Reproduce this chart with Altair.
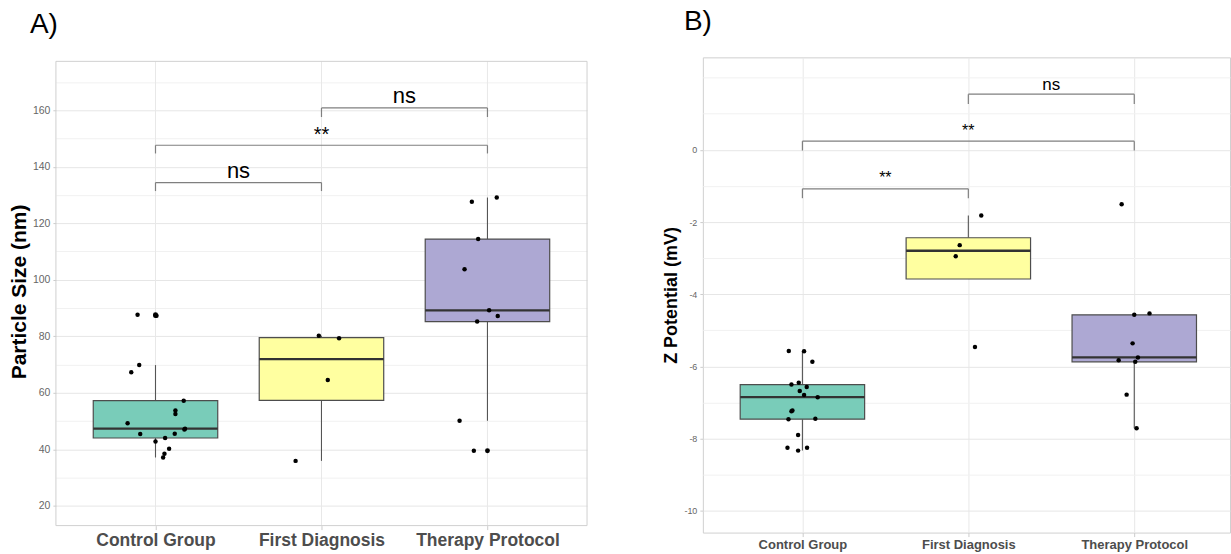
import altair as alt
import pandas as pd

GROUPS = ["Control Group", "First Diagnosis", "Therapy Protocol"]
FILLS = ["#79CCB9", "#FFFFA0", "#ADA8D3"]
FONT = "Liberation Sans"
BORDER = "#D0D0D0"

# Particle size (nm), one list per group, with the horizontal jitter of each point
size_control = [87.6, 87.3, 69.8, 67.3, 57.2, 53.7, 52.5, 49.2, 47.3, 47.0,
                45.4, 45.5, 42.8, 44.0, 40.2, 38.4, 37.1]
size_control_jit = [-0.108, 0.006, -0.098, -0.146, 0.170, 0.120, 0.120, -0.168, 0.178, 0.174,
                    -0.092, 0.116, 0.0, 0.058, 0.082, 0.054, 0.046]
size_first = [80.2, 79.3, 64.5, 35.9]
size_first_jit = [-0.016, 0.106, 0.038, -0.156]
size_therapy = [127.6, 129.1, 114.4, 103.7, 89.2, 87.2, 85.2, 50.1, 39.5]
size_therapy_jit = [-0.094, 0.056, -0.056, -0.138, 0.010, 0.062, -0.062, -0.168, -0.082]

# Z potential (mV)
zeta_control = [-5.57, -5.58, -5.87, -6.50, -6.45, -6.57, -6.68, -6.79, -6.85,
                -7.24, -7.22, -7.46, -7.45, -7.90, -8.25, -8.33, -8.25]
zeta_control_jit = [-0.082, 0.010, 0.060, -0.066, -0.022, 0.026, -0.016, 0.010, 0.092,
                    -0.066, -0.060, -0.084, 0.078, -0.026, -0.090, -0.026, 0.028]
zeta_first = [-1.82, -2.64, -2.95, -5.46]
zeta_first_jit = [0.078, -0.052, -0.076, 0.040]
zeta_therapy = [-1.51, -4.57, -4.53, -5.36, -5.75, -5.83, -5.87, -6.78, -7.71]
zeta_therapy_jit = [-0.076, 0.0, 0.092, -0.010, 0.022, -0.094, 0.006, -0.046, 0.014]

# Significance brackets: group positions, bar level, tip end, label, label baseline, font size
size_brackets = {
    "x1": [1, 1, 2], "x2": [2, 3, 3],
    "y": [134.4, 147.6, 160.8], "tip": [131.4, 144.7, 157.6],
    "label": ["ns", "**", "ns"], "ly": [135.9, 149.2, 162.4], "fs": [22, 20, 22],
}
zeta_brackets = {
    "x1": [1, 1, 2], "x2": [2, 3, 3],
    "y": [-1.08, 0.24, 1.54], "tip": [-1.34, -0.02, 1.27],
    "label": ["**", "**", "ns"], "ly": [-0.92, 0.37, 1.66], "fs": [16, 16, 17],
}


def long_table(series, jitters):
    rows = []
    for i, (vals, jits) in enumerate(zip(series, jitters)):
        for v, j in zip(vals, jits):
            rows.append({"group": GROUPS[i], "pos": i + 1, "value": v, "xj": i + 1 + j})
    return pd.DataFrame(rows)


def panel(df, brackets, title, title_dx, title_offset, y_title, y_title_size, y_domain,
          y_grid, y_label_test, x_max, width, height, tick_size, cat_size, cat_pad,
          show_outliers, inset=0):
    """One boxplot panel; `inset` leaves an empty band of that many pixels above the frame."""
    label_expr = "['Control Group','First Diagnosis','Therapy Protocol'][datum.value - 1]"
    xs = alt.Scale(domain=[0.4, x_max], nice=False, zero=False)
    ys = alt.Scale(domain=y_domain, nice=False, zero=False)
    x_axis = alt.Axis(values=[1, 2, 3], labelExpr=label_expr, title=None, domain=False,
                      grid=(inset == 0), gridColor="#E8E8E8", tickColor="#CCCCCC", tickSize=4,
                      labelFont=FONT, labelFontSize=cat_size, labelFontWeight="bold",
                      labelColor="#4D4D4D", labelPadding=cat_pad)
    y_axis = alt.Axis(values=y_grid, title=y_title, domain=False,
                      labelExpr=f"({y_label_test}) ? ('' + datum.value) : ''",
                      grid=True,
                      gridColor={"condition": {"test": y_label_test, "value": "#E6E6E6"},
                                 "value": "#F1F1F1"},
                      tickColor="#CCCCCC", tickSize=3,
                      tickOpacity={"condition": {"test": y_label_test, "value": 1}, "value": 0},
                      labelFont=FONT, labelFontSize=tick_size, labelColor="#666666",
                      labelPadding=3, titleFont=FONT, titleFontSize=y_title_size,
                      titleFontWeight="bold", titleColor="#000000", titlePadding=3)

    def X(f):
        return alt.X(f, type="quantitative", scale=xs, axis=x_axis)

    def Y(f):
        return alt.Y(f, type="quantitative", scale=ys, axis=y_axis)

    layers = []
    one = alt.Chart(pd.DataFrame({"pos": [1, 2, 3]}))
    if inset:
        # vertical grid lines stop at the frame
        layers.append(one.mark_rule(color="#E8E8E8").encode(
            x=X("pos"), y=alt.value(inset), y2=alt.value(height)))

    base = alt.Chart(df)
    fences = (
        base.transform_joinaggregate(q1="q1(value)", q3="q3(value)", groupby=["pos"])
        .transform_calculate(lo="datum.q1 - 1.5 * (datum.q3 - datum.q1)",
                             hi="datum.q3 + 1.5 * (datum.q3 - datum.q1)")
    )
    whisk = (
        fences.transform_filter("datum.value >= datum.lo && datum.value <= datum.hi")
        .transform_aggregate(wmin="min(value)", wmax="max(value)", q1="min(q1)", q3="min(q3)",
                             groupby=["pos"])
    )
    w_style = dict(color="#555555", strokeWidth=1.1)
    layers.append(whisk.mark_rule(**w_style).encode(x=X("pos"), y=Y("wmin"), y2="q1"))
    layers.append(whisk.mark_rule(**w_style).encode(x=X("pos"), y=Y("q3"), y2="wmax"))

    stats = (
        base.transform_aggregate(q1="q1(value)", q3="q3(value)", med="median(value)",
                                 groupby=["group", "pos"])
        .transform_calculate(xl="datum.pos - 0.375", xr="datum.pos + 0.375")
    )
    layers.append(stats.mark_rect(stroke="#4D4D4D", strokeWidth=1.2).encode(
        x=X("xl"), x2="xr", y=Y("q1"), y2="q3",
        fill=alt.Fill("group:N", scale=alt.Scale(domain=GROUPS, range=FILLS), legend=None),
    ))
    layers.append(stats.mark_rule(color="#333333", strokeWidth=2.3).encode(
        x=X("xl"), x2="xr", y=Y("med")))

    if show_outliers:
        layers.append(
            fences.transform_filter("datum.value < datum.lo || datum.value > datum.hi")
            .mark_circle(color="black", opacity=1, size=24)
            .encode(x=X("pos"), y=Y("value"))
        )
    layers.append(base.mark_circle(color="black", opacity=1, size=20).encode(
        x=X("xj"), y=Y("value")))

    br = alt.Chart(pd.DataFrame(brackets)).transform_calculate(xm="(datum.x1 + datum.x2) / 2")
    b_style = dict(color="#7F7F7F", strokeWidth=1.2)
    layers += [
        br.mark_rule(**b_style).encode(x=X("x1"), x2="x2", y=Y("y")),
        br.mark_rule(**b_style).encode(x=X("x1"), y=Y("tip"), y2="y"),
        br.mark_rule(**b_style).encode(x=X("x2"), y=Y("tip"), y2="y"),
        br.mark_text(font=FONT, baseline="alphabetic", align="center", color="#000000").encode(
            x=X("xm"), y=Y("ly"), text="label:N", size=alt.Size("fs:Q", scale=None)),
    ]

    props = dict(
        width=width, height=height,
        title=alt.TitleParams(title, anchor="start", frame="group", dx=title_dx,
                              offset=title_offset, font=FONT, fontSize=28,
                              fontWeight="normal", color="#000000"),
    )
    if inset:
        layers.append(
            alt.Chart(pd.DataFrame({"k": [0]}))
            .mark_rect(fillOpacity=0, stroke=BORDER, strokeWidth=1)
            .encode(x=alt.value(0), x2=alt.value(width), y=alt.value(inset), y2=alt.value(height))
        )
        props["view"] = alt.ViewBackground(strokeOpacity=0)
    return alt.layer(*layers).properties(**props)


size_df = long_table([size_control, size_first, size_therapy],
                     [size_control_jit, size_first_jit, size_therapy_jit])
zeta_df = long_table([zeta_control, zeta_first, zeta_therapy],
                     [zeta_control_jit, zeta_first_jit, zeta_therapy_jit])

A_INSET = 4
panel_a = panel(size_df, size_brackets, "A)", -26, 22 - A_INSET, "Particle Size (nm)", 21,
                [13.0, 177.3 + A_INSET / 2.829], list(range(20, 180, 10)),
                "datum.value % 20 == 0 && datum.value <= 160",
                3.6, 532, 465 + A_INSET, 10.5, 17.5, 2, True, inset=A_INSET)
panel_b = panel(zeta_df, zeta_brackets, "B)", -19, 21, "Z Potential (mV)", 18,
                [-10.6, 2.56], list(range(-10, 3, 1)), "datum.value % 2 == 0 && datum.value <= 0",
                3.577, 528, 476, 9, 13, 2, False)

chart = (
    alt.hconcat(panel_a, panel_b, spacing=74)
    .properties(padding={"left": 8, "top": 7, "right": 0, "bottom": 0}, background="white")
    .configure_view(stroke=BORDER, strokeWidth=1)
)

chart.save("out.html", embed_options={"renderer": "svg", "actions": False})
